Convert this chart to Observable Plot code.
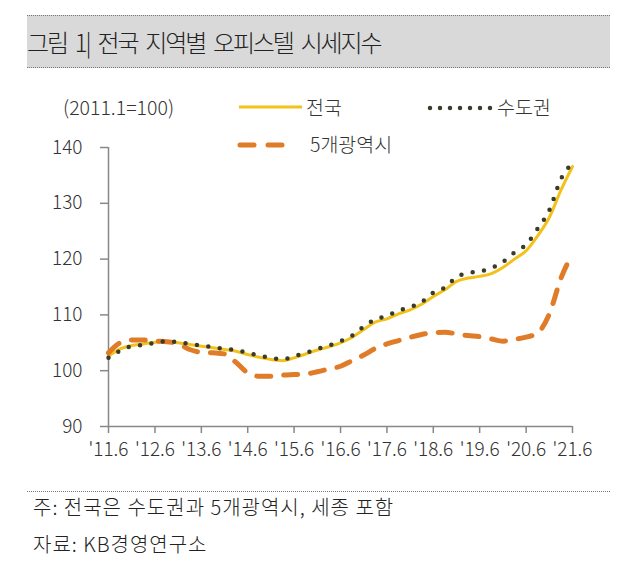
<!DOCTYPE html>
<html><head><meta charset="utf-8">
<script src="https://cdn.jsdelivr.net/npm/d3@7"></script>
<script src="https://cdn.jsdelivr.net/npm/@observablehq/plot@0.6"></script>
<style>
body{margin:0;background:#fff;font-family:"Noto Sans CJK KR","Noto Sans",sans-serif;color:#222;font-weight:300;}
#page{position:relative;width:624px;height:567px;overflow:hidden;}
.abs{position:absolute;white-space:nowrap;}
#band{left:27px;top:15px;width:583px;height:51px;background:#d9d9d9;border-top:1px dotted #777;border-bottom:1px dotted #777;}
#title{left:27px;top:24px;font-size:24px;line-height:36px;letter-spacing:-2.2px;word-spacing:5px;color:#222;}
.leg{font-size:19.5px;line-height:26px;color:#333;}
#rule{left:27px;top:491px;width:583px;border-top:1px dotted #777;}
.note{font-size:20px;line-height:26px;color:#222;left:33px;letter-spacing:1px;}
#chart{position:absolute;left:0;top:0;}
</style></head>
<body><div id="page">
<div id="band" class="abs"></div>
<div id="title" class="abs">그림 1| 전국 지역별 오피스텔 시세지수</div>
<div id="chart"></div>
<div class="abs leg" style="left:63px;top:94px;">(2011.1=100)</div>
<svg class="abs" style="left:236px;top:97px;" width="70" height="20"><line x1="3" y1="10" x2="66" y2="10" stroke="#F2C21B" stroke-width="3"/></svg>
<div class="abs leg" style="left:306px;top:94px;">전국</div>
<svg class="abs" style="left:424px;top:98px;" width="72" height="20"><line x1="6" y1="10" x2="67" y2="10" stroke="#3b3b2b" stroke-width="4.5" stroke-linecap="round" stroke-dasharray="0,10"/></svg>
<div class="abs leg" style="left:497px;top:94px;">수도권</div>
<svg class="abs" style="left:232px;top:135px;" width="70" height="20"><line x1="8" y1="10" x2="60" y2="10" stroke="#E07B28" stroke-width="5" stroke-linecap="round" stroke-dasharray="14,14"/></svg>
<div class="abs leg" style="left:310px;top:131px;">5개광역시</div>
<div id="rule" class="abs"></div>
<div class="abs note" style="top:494px;">주: 전국은 수도권과 5개광역시, 세종 포함</div>
<div class="abs note" style="top:531px;">자료: KB경영연구소</div>
</div>
<script>
const months = ["2011-06","2011-09","2011-12","2012-03","2012-06","2012-09","2012-12","2013-03","2013-06","2013-09","2013-12",
"2014-03","2014-06","2014-09","2014-12","2015-03","2015-06","2015-09","2015-12","2016-03","2016-06","2016-09","2016-12",
"2017-03","2017-06","2017-09","2017-12","2018-03","2018-06","2018-09","2018-12","2019-03","2019-06","2019-09","2019-12",
"2020-03","2020-06","2020-09","2020-12","2021-03","2021-06"];
const nationwide = [102.6,103.9,104.5,104.8,105.1,105.2,105.0,104.7,104.4,104.1,103.8,103.5,102.9,102.4,102.0,101.8,102.3,103.0,103.7,104.3,105.0,106.0,107.4,108.7,109.3,110.2,110.9,111.9,113.3,114.5,116.0,116.6,116.9,117.4,118.5,120.0,121.5,124.2,127.5,132.3,136.6];
const capital = [102.3,103.6,104.4,104.6,105.0,105.3,105.1,104.8,104.5,104.2,103.9,103.7,103.2,102.7,102.3,102.0,102.6,103.2,103.9,104.5,105.3,106.3,107.9,109.2,109.8,110.8,111.4,112.3,114.0,114.9,116.8,117.5,117.8,118.4,119.5,121.2,122.6,125.5,128.8,134.3,137.2];
const metro5 = [103.2,105.0,105.5,105.5,105.3,105.2,104.8,103.8,103.3,103.2,103.0,101.5,99.6,99.0,99.0,99.2,99.3,99.4,99.8,100.3,100.8,101.8,102.8,104.0,104.8,105.4,106.0,106.5,106.8,106.9,106.6,106.3,106.1,105.7,105.3,105.6,106.0,106.8,110.2,116.5,121.0];
const tickMonths = ["2011-06","2012-06","2013-06","2014-06","2015-06","2016-06","2017-06","2018-06","2019-06","2020-06","2021-06"];
const yTicks = [90,100,110,120,130,140];

const parse = d3.utcParse("%Y-%m");
const rows = (vals) => months.map((m,i)=>({date:parse(m), v:vals[i]}));
const fmt = d => "'" + d3.utcFormat("%y")(d) + "." + (d.getUTCMonth()+1);

const chart = Plot.plot({
  width:624, height:567,
  marginLeft:108, marginRight:52, marginTop:147, marginBottom:141,
  style:{fontFamily:'"Noto Sans CJK KR","Noto Sans",sans-serif', fontSize:"19px", fontWeight:300, color:"#333", background:"transparent"},
  x:{type:"utc", domain:[parse("2011-06"), parse("2021-06")], label:null},
  y:{domain:[90,140], label:null},
  marks:[
    Plot.axisY({ticks:yTicks, tickSize:8, tickPadding:18, stroke:"#888", strokeWidth:1.5, fontSize:19, fill:"#333", label:null}),
    Plot.axisX({ticks:tickMonths.map(parse), tickFormat:fmt, tickSize:7, tickPadding:9, stroke:"#888", strokeWidth:1.5, fontSize:19, fill:"#333", label:null}),
    Plot.ruleX([parse("2011-06")], {y1:90, y2:140, stroke:"#888", strokeWidth:1.5}),
    Plot.ruleY([90], {stroke:"#888", strokeWidth:1.5}),
    Plot.line(rows(nationwide), {x:"date", y:"v", stroke:"#F2C21B", strokeWidth:3, curve:"monotone-x"}),
    Plot.line(rows(metro5), {x:"date", y:"v", stroke:"#E07B28", strokeWidth:5, strokeDasharray:"14,13", strokeLinecap:"round", curve:"monotone-x"}),
    Plot.line(rows(capital), {x:"date", y:"v", stroke:"#3b3b2b", strokeWidth:4.5, strokeDasharray:"0,11.5", strokeLinecap:"round", curve:"monotone-x"})
  ]
});
document.getElementById("chart").appendChild(chart);
</script>
</body></html>
